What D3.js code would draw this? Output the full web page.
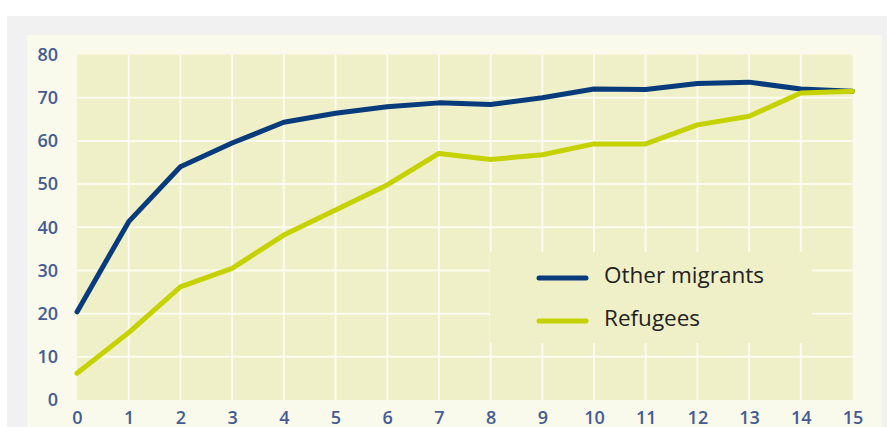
<!DOCTYPE html>
<html><head><meta charset="utf-8">
<script src="https://cdn.jsdelivr.net/npm/d3@7"></script>
<style>html,body{margin:0;padding:0;background:#fff;overflow:hidden}</style>
</head><body>
<svg id="c" width="887" height="427"></svg>
<script>
const years = [0,1,2,3,4,5,6,7,8,9,10,11,12,13,14,15];
const otherMigrants = [20.4,41.3,54.0,59.5,64.3,66.4,67.9,68.8,68.4,70.0,72.0,71.9,73.3,73.6,72.0,71.5];
const refugees = [6.2,15.6,26.2,30.5,38.2,44.0,49.8,57.1,55.7,56.8,59.3,59.3,63.7,65.7,71.1,71.5];
const yTicks = [0,10,20,30,40,50,60,70,80];
const seriesNames = ["Other migrants","Refugees"];
const seriesColors = ["#073b7c","#c6d200"];

const svg = d3.select("#c");
svg.append("rect").attr("x",7).attr("y",16).attr("width",880).attr("height",411).attr("fill","#f1f1f1");
svg.append("rect").attr("x",27).attr("y",35).attr("width",855).attr("height",392).attr("fill","#f9f9ec");

const x = d3.scaleLinear().domain([0,15]).range([77,852.5]);
const y = d3.scaleLinear().domain([0,80]).range([400,54.5]);

svg.append("rect").attr("x",x(0)).attr("y",y(80)).attr("width",x(15)-x(0)).attr("height",y(0)-y(80)).attr("fill","#eff0c7");

const g = svg.append("g");
g.selectAll("line.v").data(years.slice(1,15)).join("line")
  .attr("x1",d=>x(d)).attr("x2",d=>x(d)).attr("y1",y(80)).attr("y2",y(0))
  .attr("stroke","#fbfbf0").attr("stroke-width",2);
g.selectAll("line.h").data(yTicks.slice(1,8)).join("line")
  .attr("x1",x(0)).attr("x2",x(15)).attr("y1",d=>y(d)).attr("y2",d=>y(d))
  .attr("stroke","#fbfbf0").attr("stroke-width",2);

const tickFont = "'Open Sans', sans-serif";
const yAxis = d3.axisLeft(y).tickValues(yTicks).tickSize(0).tickPadding(0);
const ya = svg.append("g").attr("transform","translate(58,0)").call(yAxis);
ya.select(".domain").remove();
ya.selectAll("text").attr("font-family",tickFont).attr("font-weight",600).attr("font-size",18).attr("fill","#445c92");

const xAxis = d3.axisBottom(x).tickValues(years).tickSize(0).tickPadding(0);
const xa = svg.append("g").attr("transform","translate(0,411)").call(xAxis);
xa.select(".domain").remove();
xa.selectAll("text").attr("font-family",tickFont).attr("font-weight",600).attr("font-size",18).attr("fill","#445c92");

const line = d3.line().x((d,i)=>x(years[i])).y(d=>y(d));
[otherMigrants, refugees].forEach((s,k)=>{
  svg.append("path").attr("d",line(s)).attr("fill","none")
    .attr("stroke",seriesColors[k]).attr("stroke-width",5).attr("stroke-linejoin","round").attr("stroke-linecap","round");
});

// legend
svg.append("rect").attr("x",490).attr("y",252).attr("width",322).attr("height",91).attr("fill","#eff0c7");
const leg = svg.append("g");
seriesNames.forEach((n,k)=>{
  const yy = 278 + k*43;
  leg.append("line").attr("x1",539).attr("x2",586).attr("y1",yy).attr("y2",yy)
    .attr("stroke",seriesColors[k]).attr("stroke-width",5).attr("stroke-linecap","round");
  leg.append("text").attr("x",604).attr("y",yy-3).attr("dy","0.35em")
    .attr("font-family","'Open Sans', sans-serif").attr("font-size",22.5).attr("fill","#222").text(n);
});
</script>
</body></html>
